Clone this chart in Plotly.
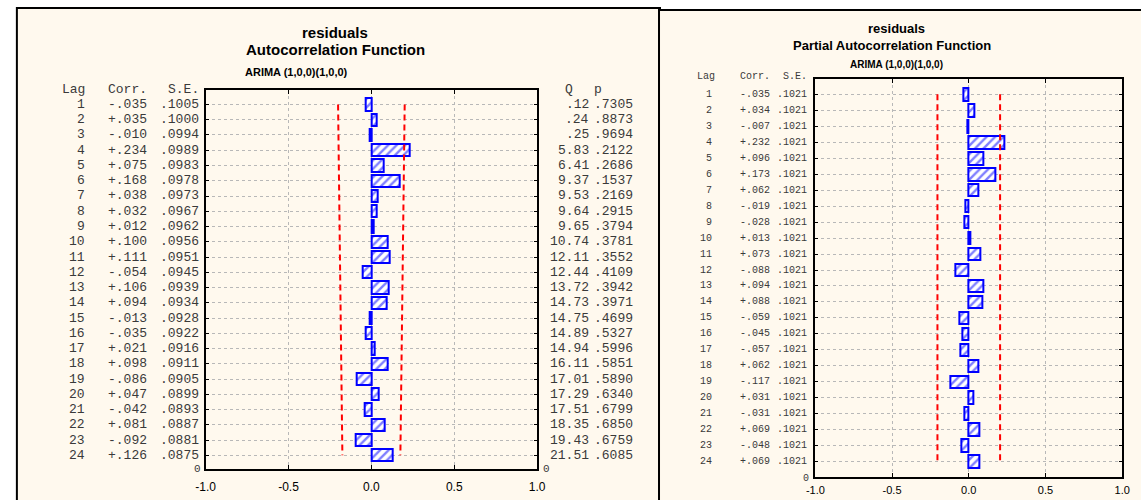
import plotly.graph_objects as go

W, H = 1141, 500

lags = list(range(1, 25))
acf_corr = [-.035, .035, -.010, .234, .075, .168, .038, .032, .012, .100, .111, -.054,
            .106, .094, -.013, -.035, .021, .098, -.086, .047, -.042, .081, -.092, .126]
acf_se = [.1005, .1000, .0994, .0989, .0983, .0978, .0973, .0967, .0962, .0956, .0951, .0945,
          .0939, .0934, .0928, .0922, .0916, .0911, .0905, .0899, .0893, .0887, .0881, .0875]
acf_q = [.12, .24, .25, 5.83, 6.41, 9.37, 9.53, 9.64, 9.65, 10.74, 12.11, 12.44,
         13.72, 14.73, 14.75, 14.89, 14.94, 16.11, 17.01, 17.29, 17.51, 18.35, 19.43, 21.51]
acf_p = [.7305, .8873, .9694, .2122, .2686, .1537, .2169, .2915, .3794, .3781, .3552, .4109,
         .3942, .3971, .4699, .5327, .5996, .5851, .5890, .6340, .6799, .6850, .6759, .6085]
pacf_corr = [-.035, .034, -.007, .232, .096, .173, .062, -.019, -.028, .013, .073, -.088,
             .094, .088, -.059, -.045, -.057, .062, -.117, .031, -.031, .069, -.048, .069]
pacf_se = [.1021, .1021, .1021, .1021, .1021, .1021, .1021, .1021, .1021, .1021, .1021, .1021,
           .1021, .1021, .1021, .1021, .1021, .1021, .1021, .1021, .1021, .1021, .1021, .1021]
x_ticks = [-1.0, -0.5, 0.0, 0.5, 1.0]
x_tick_labels = ["-1.0", "-0.5", "0.0", "0.5", "1.0"]

BLUE = "#0000ff"
RED = "#ff0000"
CREAM = "#fff9ee"
TXT = "#3a3a3a"
MONO = "Liberation Mono, Courier New, monospace"
SANS = "Liberation Sans, Arial, sans-serif"


def px(x):
    return x / W


def py(y):
    return 1 - y / H


def fcorr(v):
    return ("+" if v >= 0 else "-") + f"{abs(v):.3f}"[1:]


def fdec(v, d):
    s = f"{v:.{d}f}"
    return s[1:] if s.startswith("0") else s


# plot areas (pixels)
L = dict(x0=199, x1=536, y0=90, y1=469)
R = dict(x0=819, x1=1131, y0=79, y1=477)

fig = go.Figure()


def add_panel(corr, se, xa, ya):
    fig.add_trace(go.Bar(
        x=corr, y=lags, orientation="h", width=0.8,
        marker=dict(color="white", line=dict(color=BLUE, width=2),
                    pattern=dict(shape="/", fgcolor=BLUE, bgcolor="white", size=6, solidity=0.4)),
        xaxis=xa, yaxis=ya, showlegend=False, hoverinfo="skip"))
    for sgn in (-1, 1):
        fig.add_trace(go.Scatter(
            x=[sgn * 2 * s for s in se], y=lags, mode="lines",
            line=dict(color=RED, width=2, dash="6px,4px"),
            xaxis=xa, yaxis=ya, showlegend=False, hoverinfo="skip"))


add_panel(acf_corr, acf_se, "x", "y")
add_panel(pacf_corr, pacf_se, "x2", "y2")

axis_common = dict(
    showgrid=True, gridcolor="#b8b8b8", griddash="dot", gridwidth=1,
    zeroline=False, showline=True, mirror="ticks", linecolor="black", linewidth=2,
    ticks="inside", tickcolor="black", fixedrange=True,
)

fig.update_layout(
    width=W, height=H, margin=dict(l=0, r=0, t=0, b=0),
    paper_bgcolor="white", plot_bgcolor="white", bargap=0,
    xaxis=dict(domain=[px(L["x0"]), px(L["x1"])], range=[-1, 1], tickvals=x_ticks,
               ticktext=x_tick_labels, ticklen=4, anchor="y", ticklabelstandoff=6,
               tickfont=dict(family=SANS, size=12, color="black"), **axis_common),
    yaxis=dict(domain=[py(L["y1"]), py(L["y0"])], range=[24.9, 0.05], tickvals=lags,
               showticklabels=False, ticklen=3, anchor="x", **axis_common),
    xaxis2=dict(domain=[px(R["x0"]), px(R["x1"])], range=[-1, 1], tickvals=x_ticks,
                ticktext=x_tick_labels, ticklen=4, anchor="y2", ticklabelstandoff=2,
                tickfont=dict(family=SANS, size=11, color="black"), **axis_common),
    yaxis2=dict(domain=[py(R["y1"]), py(R["y0"])], range=[24.95, 0.05], tickvals=lags,
                showticklabels=False, ticklen=3, anchor="x2", **axis_common),
)

# panel backgrounds
shapes = [
    dict(type="rect", xref="paper", yref="paper", x0=px(7), x1=px(661), y0=py(520), y1=py(8),
         fillcolor=CREAM, line=dict(color="black", width=2), layer="below"),
    dict(type="rect", xref="paper", yref="paper", x0=px(660), x1=px(1160), y0=py(520), y1=py(10),
         fillcolor=CREAM, line=dict(color="black", width=2), layer="below"),
]
fig.update_layout(shapes=shapes)

ann = []


def txt(x, y, s, size, xanchor="center", yref="paper", family=MONO, color=TXT, bold=False):
    if bold:
        s = "<b>" + s + "</b>"
    ann.append(dict(x=px(x), y=(py(y) if yref == "paper" else y), xref="paper", yref=yref,
                    text=s, showarrow=False, xanchor=xanchor, yanchor="middle",
                    font=dict(family=family, size=size, color=color)))


# titles left
txt(331, 32, "residuals", 15, family=SANS, color="black", bold=True)
txt(331, 50, "Autocorrelation Function", 15, family=SANS, color="black", bold=True)
txt(291, 72, "ARIMA (1,0,0)(1,0,0)", 11, family=SANS, color="black", bold=True)
# titles right
txt(902, 28, "residuals", 13, family=SANS, color="black", bold=True)
txt(897, 46, "Partial Autocorrelation Function", 13, family=SANS, color="black", bold=True)
txt(902, 64, "ARIMA (1,0,0)(1,0,0)", 10, family=SANS, color="black", bold=True)

# left headers
txt(78, 90, "Lag", 13, "right")
txt(98, 90, "Corr.", 13, "left")
txt(194, 90, "S.E.", 13, "right")
txt(568, 90, "Q", 13, "center")
txt(598, 90, "p", 13, "center")
txt(196, 469, "0", 11, "right")
txt(540, 469, "0", 11, "left")
for i, lag in enumerate(lags):
    txt(78, lag, str(lag), 13, "right", yref="y")
    txt(98, lag, fcorr(acf_corr[i]), 13, "left", yref="y")
    txt(194, lag, fdec(acf_se[i], 4), 13, "right", yref="y")
    txt(591, lag, fdec(acf_q[i], 2), 13, "right", yref="y")
    txt(636, lag, fdec(acf_p[i], 4), 13, "right", yref="y")

# right headers
txt(719, 76, "Lag", 10, "right")
txt(740, 76, "Corr.", 10, "left")
txt(813, 76, "S.E.", 10, "right")
txt(815, 478, "0", 10, "right")
for i, lag in enumerate(lags):
    ann.append(dict(x=px(716), y=lag, xref="paper", yref="y2", text=str(lag), showarrow=False,
                    xanchor="right", yanchor="middle", font=dict(family=MONO, size=10, color=TXT)))
    ann.append(dict(x=px(740), y=lag, xref="paper", yref="y2", text=fcorr(pacf_corr[i]),
                    showarrow=False, xanchor="left", yanchor="middle",
                    font=dict(family=MONO, size=10, color=TXT)))
    ann.append(dict(x=px(813), y=lag, xref="paper", yref="y2", text=fdec(pacf_se[i], 4),
                    showarrow=False, xanchor="right", yanchor="middle",
                    font=dict(family=MONO, size=10, color=TXT)))

fig.update_layout(annotations=ann)
fig.write_html(
    "out.html",
    config={"displayModeBar": False, "responsive": False},
    post_script="document.body.style.margin='0';document.body.style.overflow='hidden';",
)
